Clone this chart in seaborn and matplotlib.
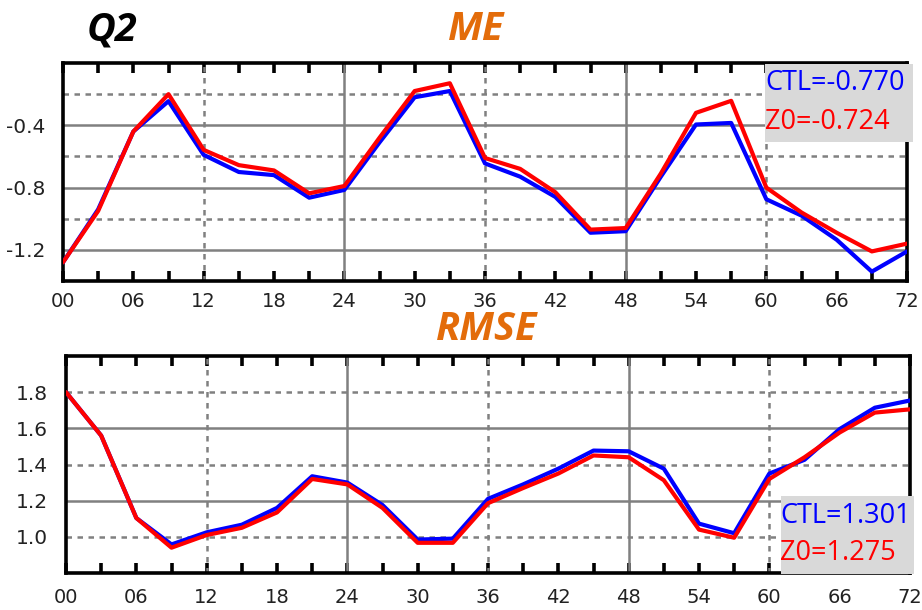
import matplotlib
matplotlib.use("Agg")
import matplotlib.pyplot as plt
import seaborn as sns
import pandas as pd
from matplotlib.patches import Rectangle

# ---------------- data ----------------
hours = list(range(0, 73, 3))
me_ctl = [-1.28, -0.94, -0.44, -0.245, -0.59, -0.70, -0.72, -0.865, -0.815, -0.51, -0.22, -0.18,
          -0.645, -0.73, -0.86, -1.09, -1.08, -0.73, -0.395, -0.385, -0.875, -0.98, -1.135, -1.34, -1.21]
me_z0 = [-1.28, -0.95, -0.44, -0.20, -0.558, -0.656, -0.69, -0.837, -0.79, -0.48, -0.18, -0.13,
         -0.61, -0.68, -0.83, -1.07, -1.06, -0.71, -0.32, -0.243, -0.80, -0.96, -1.09, -1.21, -1.16]
rmse_ctl = [1.80, 1.56, 1.104, 0.958, 1.025, 1.067, 1.16, 1.335, 1.30, 1.176, 0.985, 0.99,
            1.21, 1.29, 1.377, 1.477, 1.473, 1.377, 1.073, 1.02, 1.35, 1.426, 1.596, 1.714, 1.754]
rmse_z0 = [1.80, 1.56, 1.104, 0.94, 1.01, 1.05, 1.135, 1.32, 1.29, 1.16, 0.967, 0.967,
           1.186, 1.27, 1.35, 1.45, 1.44, 1.313, 1.04, 0.995, 1.32, 1.44, 1.577, 1.687, 1.705]
series_names = ["CTL", "Z0"]
series_colors = ["#0000ff", "#ff0000"]
xtick_vals = list(range(0, 73, 6))
xtick_labels = ["%02d" % h for h in xtick_vals]
me_yticks = [-1.2, -0.8, -0.4]
rmse_yticks = [1.0, 1.2, 1.4, 1.6, 1.8]
me_stats = ["CTL=-0.770", "Z0=-0.724"]
rmse_stats = ["CTL=1.301", "Z0=1.275"]

# ---------------- style ----------------
sns.set_style("white")
plt.rcParams["font.family"] = ["DejaVu Sans"]

W, H = 922, 610
fig = plt.figure(figsize=(W / 100, H / 100), dpi=100)

def fx(px):
    return px / W

def fy(py):
    return 1 - py / H

def make_df(ctl, z0):
    return pd.DataFrame({
        "hour": hours * 2,
        "value": ctl + z0,
        "exp": [series_names[0]] * len(hours) + [series_names[1]] * len(hours),
    })

grid_c = "#808080"

def style_axes(ax, ylim, yticks, solid_y, dashed_y, xpad):
    leg = ax.get_legend()
    if leg is not None:
        leg.remove()
    ax.set_xlabel("")
    ax.set_ylabel("")
    for s in ax.spines.values():
        s.set_color("black")
        s.set_linewidth(2.6)
        s.set_visible(True)
    for v in solid_y:
        ax.axhline(v, color=grid_c, lw=1.8, zorder=1)
    for v in dashed_y:
        ax.axhline(v, color=grid_c, lw=1.8, ls=(0, (2.2, 2.2)), zorder=1)
    for v in [24, 48]:
        ax.axvline(v, color=grid_c, lw=1.8, zorder=1)
    for v in [12, 36, 60]:
        ax.axvline(v, color=grid_c, lw=1.8, ls=(0, (2.2, 2.2)), zorder=1)
    ax.set_xlim(0, 72)
    ax.set_ylim(*ylim)
    ax.set_xticks(xtick_vals)
    ax.set_xticklabels(xtick_labels)
    ax.set_xticks(hours, minor=True)
    ax.set_yticks(yticks)
    ax.set_yticklabels(["%.1f" % v for v in yticks])
    ax.tick_params(axis="x", which="both", direction="in", length=7, width=2.6,
                   top=True, bottom=True, color="black")
    ax.tick_params(axis="x", which="major", labelsize=14, pad=xpad, labelcolor="#222222")
    ax.tick_params(axis="y", which="both", length=0, labelsize=14.5, pad=13,
                   labelcolor="#222222")

# top panel (ME)
ax1 = fig.add_axes([fx(63), fy(281), fx(907) - fx(63), fy(63) - fy(281)])
sns.lineplot(data=make_df(me_ctl, me_z0), x="hour", y="value", hue="exp",
             palette=series_colors, linewidth=3.0, ax=ax1, zorder=3)
style_axes(ax1, (-1.4, 0.0), me_yticks, me_yticks, [-1.0, -0.6, -0.2], 8)

# bottom panel (RMSE)
ax2 = fig.add_axes([fx(66), fy(573), fx(910) - fx(66), fy(356) - fy(573)])
sns.lineplot(data=make_df(rmse_ctl, rmse_z0), x="hour", y="value", hue="exp",
             palette=series_colors, linewidth=3.0, ax=ax2, zorder=3)
style_axes(ax2, (0.8, 2.0), rmse_yticks, [1.2, 1.6], [1.0, 1.4, 1.8], 11)

# titles
orange = "#E36C0A"
title_kw = dict(fontfamily="Open Sans", fontweight="bold", fontstyle="italic",
                fontsize=28.5, ha="center", va="center")
fig.text(fx(112), fy(30), "Q2", color="black", **title_kw)
fig.text(fx(476), fy(30), "ME", color=orange, **title_kw)
fig.text(fx(487), fy(329), "RMSE", color=orange, **title_kw)

# stat boxes
box_c = "#d9d9d9"
fig.add_artist(Rectangle((fx(765), fy(142)), fx(913) - fx(765), fy(64) - fy(142),
                         transform=fig.transFigure, facecolor=box_c, edgecolor="none",
                         zorder=10))
fig.add_artist(Rectangle((fx(781), fy(574)), fx(914) - fx(781), fy(496) - fy(574),
                         transform=fig.transFigure, facecolor=box_c, edgecolor="none",
                         zorder=10))
stat_kw = dict(fontfamily="Open Sans", fontsize=19.5, ha="left", va="center", zorder=11)
fig.text(fx(765), fy(83), me_stats[0], color=series_colors[0], **stat_kw)
fig.text(fx(765), fy(122), me_stats[1], color=series_colors[1], **stat_kw)
fig.text(fx(780), fy(516), rmse_stats[0], color=series_colors[0], **stat_kw)
fig.text(fx(780), fy(553), rmse_stats[1], color=series_colors[1], **stat_kw)

# render once, touch the tick objects (makes the inward ticks show), then save
fig.canvas.draw()
for a in (ax1, ax2):
    for t in a.xaxis.get_major_ticks() + a.xaxis.get_minor_ticks():
        t.tick1line.get_visible()
        t.tick2line.get_visible()

fig.savefig("out.png", dpi=100)
